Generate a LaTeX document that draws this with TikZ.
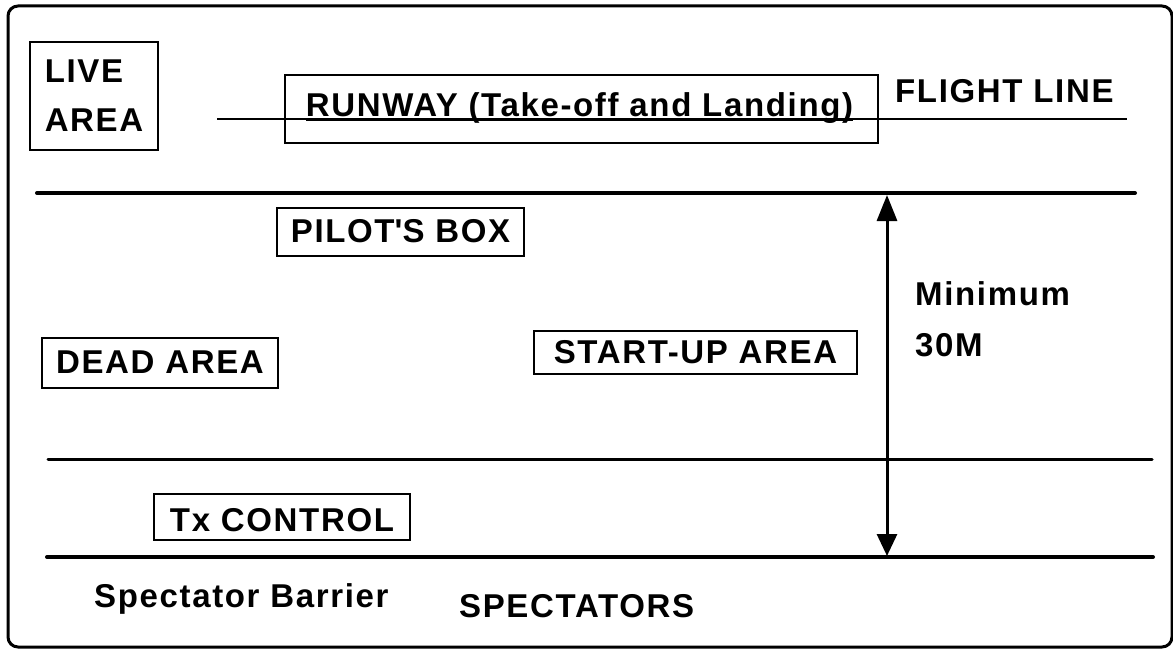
\documentclass[tikz,border=0pt]{standalone}
\usepackage{fontspec}
\setmainfont{Liberation Sans}[LetterSpace=5]
\usetikzlibrary{arrows.meta}

\begin{document}
\begin{tikzpicture}[x=1pt,y=-1pt,
  lbl/.style={inner sep=0pt,font=\bfseries\fontsize{33}{49}\selectfont},
  area/.style={lbl,draw,line width=1.6pt},
  barrier/.style={line width=4pt,line cap=round},
  thinline/.style={line width=1.5pt}]

\useasboundingbox (0,0) rectangle (1173,650);

% outer frame
\draw [line width=3pt,rounded corners=10pt] (8,6) rectangle (1172,647);

\coordinate (fl-w) at (217,119);
\coordinate (fl-e) at (1127,119);

\coordinate (top-w) at (37,193);
\coordinate (top-e) at (1135,193);
\coordinate (mid-w) at (48,459);
\coordinate (mid-e) at (1152,459);
\coordinate (bot-w) at (47,557);
\coordinate (bot-e) at (1153,557);

\coordinate (gap-top) at (887,195);
\coordinate (gap-bot) at (887,556);

% boxed areas
\node [area,align=left,minimum width=128pt,minimum height=108pt] (live) at (94,96) {LIVE\\AREA};
\node [area,minimum width=593pt,minimum height=68pt] (runway) at (581.5,109) {};
\node [lbl,anchor=base] (runway-lbl) at (579.5,117) {RUNWAY (Take-off and Landing)};
\node [area,anchor=base,minimum width=247pt,text height=34pt,text depth=14pt] (pilot) at (400.5,242) {PILOT\textquotesingle S BOX};
\node [area,anchor=base,minimum width=236pt,text height=35pt,text depth=15pt] (dead) at (160,373) {DEAD AREA};
\node [area,anchor=base,minimum width=323pt,text height=32pt,text depth=11pt] (startup) at (695.5,363) {START-UP AREA};
\node [area,anchor=base,minimum width=256pt,text height=37pt,text depth=9pt] (tx) at (282,531) {Tx CONTROL};

% free labels
\node [lbl,anchor=base west] (flight) at (895,103) {FLIGHT LINE};
\node [lbl,anchor=base west] (minimum) at (915,305) {Minimum};
\node [lbl,anchor=base west] (dist) at (915,356) {30M};
\node [lbl,anchor=base west] (barrier) at (94,607) {Spectator Barrier};
\node [lbl,anchor=base west] (spectators) at (459,617) {SPECTATORS};

% flight line and runway underline
\draw [thinline] (fl-w) -- (fl-e);
\draw [line width=2pt] ([yshift=-3pt]runway-lbl.base west) -- ([yshift=-3pt]runway-lbl.base east);

% lines across the field
\draw [barrier] (top-w) -- (top-e);
\draw [line width=3pt,line cap=round] (mid-w) -- (mid-e);
\draw [barrier] (bot-w) -- (bot-e);

\draw [line width=3pt,{Triangle[width=20pt,length=26pt]}-{Triangle[width=20pt,length=22pt]}] (gap-top) -- (gap-bot);

\end{tikzpicture}
\end{document}
